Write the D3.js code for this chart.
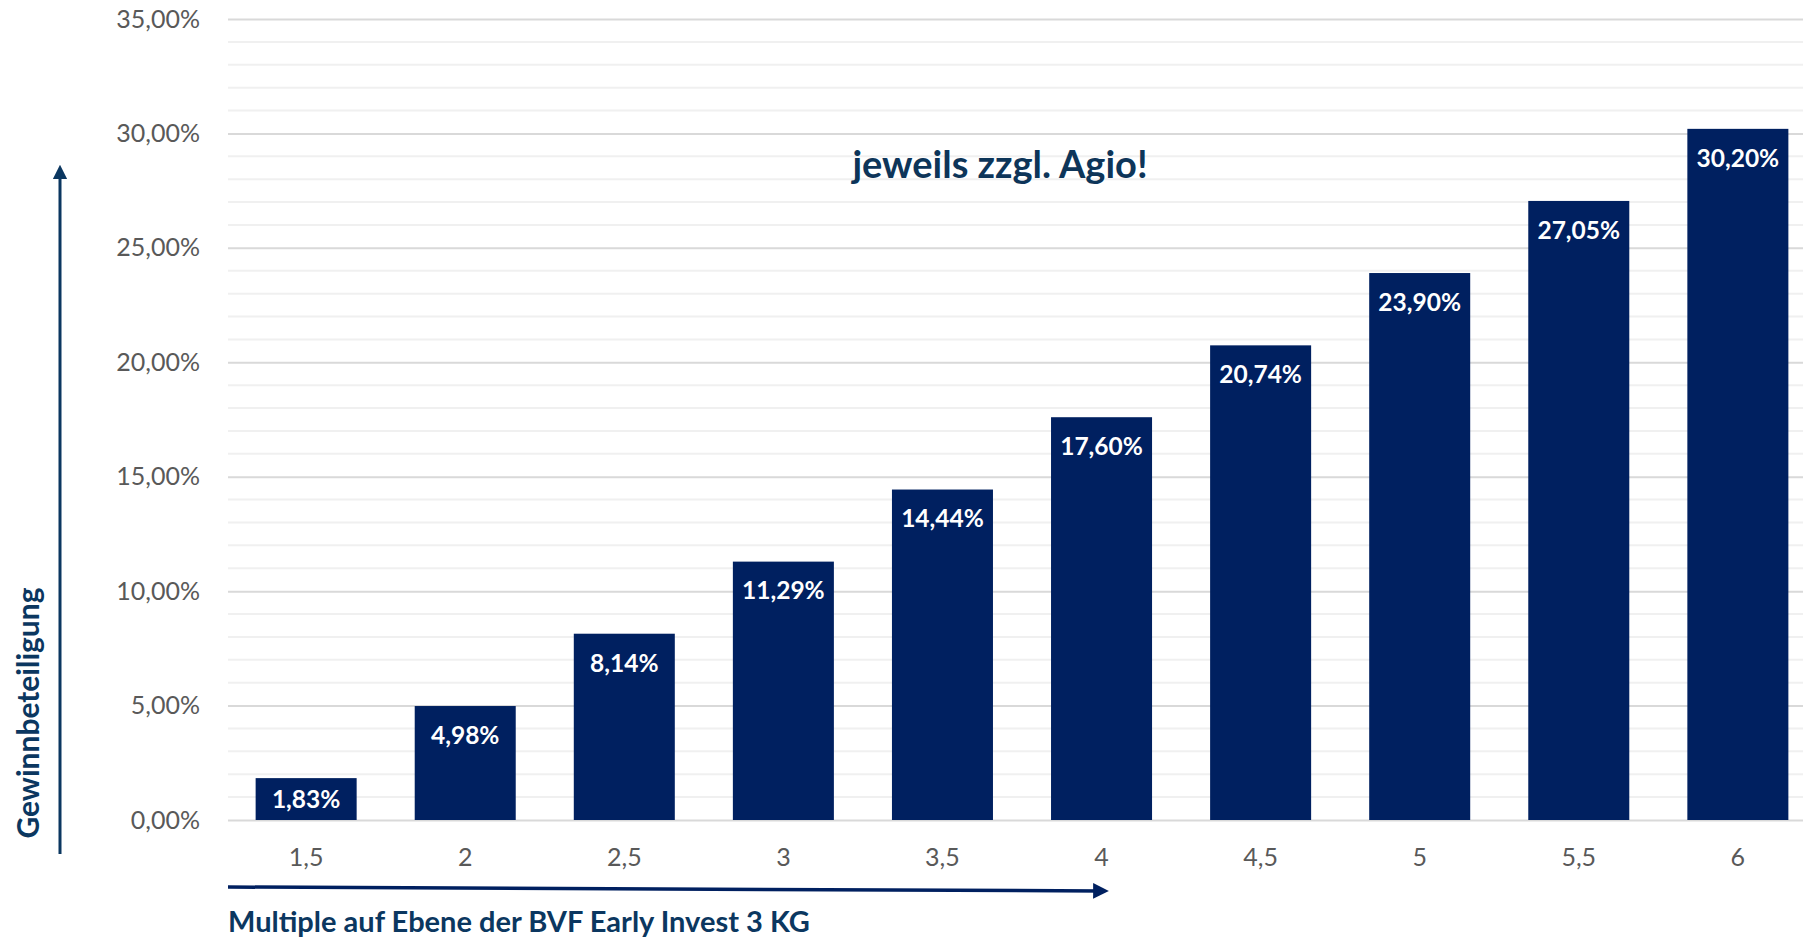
<!DOCTYPE html>
<html>
<head>
<meta charset="utf-8">
<script src="https://cdn.jsdelivr.net/npm/d3@7"></script>
<style>
  body { margin: 0; background: #ffffff; }
  svg { display: block; font-family: Lato, "Open Sans", sans-serif; }
</style>
</head>
<body>
<svg id="chart_svg" width="1803" height="940"></svg>
<script>

// data
var multiples = ["1,5", "2", "2,5", "3", "3,5", "4", "4,5", "5", "5,5", "6"];
var shares = [1.83, 4.98, 8.14, 11.29, 14.44, 17.60, 20.74, 23.90, 27.05, 30.20];
var yMajorTicks = [0, 5, 10, 15, 20, 25, 30, 35];
var yMinorTicks = d3.range(0, 36, 1);

var titleText = "jeweils zzgl. Agio!";
var yTitle = "Gewinnbeteiligung";
var xTitle = "Multiple auf Ebene der BVF Early Invest 3 KG";

var barColor = "#002060";
var navy = "#0b3760";

var svg = d3.select("#chart_svg");

var x = d3.scaleBand()
    .domain(multiples)
    .range([227, 1817])
    .paddingInner(0.365)
    .paddingOuter(0.18);

var y = d3.scaleLinear()
    .domain([0, 35])
    .range([820, 19]);

function fmt(v) {
    return v.toFixed(2).replace(".", ",") + "%";
}

// minor gridlines
svg.append("g").selectAll("line")
    .data(yMinorTicks.filter(function(d) { return d % 5 != 0; }))
    .enter().append("line")
    .attr("x1", 228).attr("x2", 1803)
    .attr("y1", function(d) { return y(d); })
    .attr("y2", function(d) { return y(d); })
    .style("stroke", "#f0f0f0")
    .style("stroke-width", 2);

// major gridlines + labels through the axis
var yAxis = d3.axisLeft(y)
    .tickValues(yMajorTicks)
    .tickSize(-1575)
    .tickPadding(28)
    .tickFormat(fmt);

var gy = svg.append("g")
    .attr("transform", "translate(228,0)")
    .call(yAxis);
gy.select(".domain").remove();
gy.selectAll(".tick line")
    .style("stroke", "#d9d9d9")
    .style("stroke-width", 2);
gy.selectAll(".tick text")
    .style("font-size", "25px")
    .style("fill", "#595959")
    .style("font-family", "Lato, sans-serif");

// x axis labels
var xAxis = d3.axisBottom(x).tickSize(0).tickPadding(28);
var gx = svg.append("g")
    .attr("transform", "translate(0,820)")
    .call(xAxis);
gx.select(".domain").remove();
gx.selectAll(".tick text")
    .style("font-size", "25px")
    .style("fill", "#595959")
    .style("font-family", "Lato, sans-serif");

// bars
var bars = svg.append("g").selectAll("g.bar")
    .data(shares)
    .enter().append("g")
    .attr("class", "bar");

bars.append("rect")
    .attr("x", function(d, i) { return x(multiples[i]); })
    .attr("y", function(d) { return y(d); })
    .attr("width", x.bandwidth())
    .attr("height", function(d) { return y(0) - y(d); })
    .style("fill", barColor);

bars.append("text")
    .attr("x", function(d, i) { return x(multiples[i]) + x.bandwidth() / 2; })
    .attr("y", function(d) {
        var h = y(0) - y(d);
        if (h < 60) { return y(d) + h / 2; }  // short bar: centre the label
        return y(d) + 29;
    })
    .attr("dy", "0.36em")
    .attr("text-anchor", "middle")
    .style("font-size", "24.5px")
    .style("font-weight", "bold")
    .style("fill", "#ffffff")
    .text(function(d) { return fmt(d); });

// note
svg.append("text")
    .attr("x", 1000)
    .attr("y", 165)
    .attr("dy", "0.35em")
    .attr("text-anchor", "middle")
    .style("font-size", "38px")
    .style("font-weight", "bold")
    .style("fill", "#0d3559")
    .text(titleText);

// arrows
var defs = svg.append("defs");
defs.append("marker")
    .attr("id", "arrowV")
    .attr("viewBox", "0 0 10 10")
    .attr("refX", 5).attr("refY", 5)
    .attr("markerWidth", 4.8).attr("markerHeight", 4.8)
    .attr("orient", "auto")
    .append("path").attr("d", "M0,0L10,5L0,10Z").style("fill", navy);
defs.append("marker")
    .attr("id", "arrowH")
    .attr("viewBox", "0 0 10 10")
    .attr("refX", 5).attr("refY", 5)
    .attr("markerWidth", 4.5).attr("markerHeight", 4.5)
    .attr("orient", "auto")
    .append("path").attr("d", "M0,0L10,5L0,10Z").style("fill", barColor);

svg.append("line")
    .attr("x1", 60).attr("x2", 60)
    .attr("y1", 854).attr("y2", 172)
    .style("stroke", navy)
    .style("stroke-width", 3)
    .attr("marker-end", "url(#arrowV)");

svg.append("line")
    .attr("x1", 228).attr("x2", 1101)
    .attr("y1", 887).attr("y2", 891)
    .style("stroke", barColor)
    .style("stroke-width", 3.5)
    .attr("marker-end", "url(#arrowH)");

// axis titles
svg.append("text")
    .attr("transform", "translate(28,713) rotate(-90)")
    .attr("dy", "0.35em")
    .attr("text-anchor", "middle")
    .style("font-size", "30px")
    .style("font-weight", "bold")
    .style("fill", navy)
    .text(yTitle);

svg.append("text")
    .attr("x", 228)
    .attr("y", 922)
    .attr("dy", "0.35em")
    .style("font-size", "29px")
    .style("font-weight", "bold")
    .style("fill", navy)
    .text(xTitle);

</script>
</body>
</html>
